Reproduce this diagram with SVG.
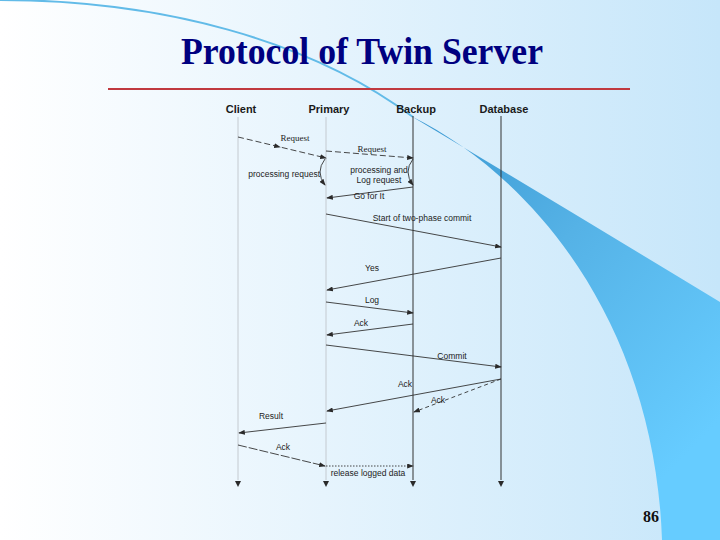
<svg xmlns="http://www.w3.org/2000/svg" width="720" height="540" viewBox="0 0 720 540">
<defs>
  <linearGradient id="bg" x1="0" y1="0" x2="1" y2="0">
    <stop offset="0" stop-color="#ffffff"/>
    <stop offset="0.45" stop-color="#e6f4fd"/>
    <stop offset="1" stop-color="#c6e6fa"/>
  </linearGradient>
  <linearGradient id="sweep" x1="413" y1="117" x2="720" y2="420" gradientUnits="userSpaceOnUse">
    <stop offset="0" stop-color="#3a98d2"/>
    <stop offset="0.45" stop-color="#55b2e6"/>
    <stop offset="1" stop-color="#66ccff"/>
  </linearGradient>
  <marker id="arr" viewBox="0 0 8 6" refX="7" refY="3" markerWidth="7" markerHeight="5" markerUnits="userSpaceOnUse" orient="auto">
    <path d="M0,0 L8,3 L0,6 z" fill="#2a2a2a"/>
  </marker>
</defs>
<style>
  .hdr { font-family: "Liberation Sans", Arial, sans-serif; font-weight: bold; font-size: 11px; fill: #1a1a1a; text-anchor: middle; }
  .lbl { font-family: "Liberation Sans", Arial, sans-serif; font-size: 8.5px; fill: #222; }
  .ser { font-family: "Liberation Serif", "Times New Roman", serif; font-size: 9px; fill: #222; }
  .life-l { stroke: #c4cad0; stroke-width: 1; fill: none; }
  .life-d { stroke: #333; stroke-width: 1; fill: none; }
  .msg { stroke: #333; stroke-width: 0.9; fill: none; marker-end: url(#arr); }
  .dash { stroke-dasharray: 6 3; }
  .sdash { stroke-dasharray: 4 3; }
  .ldash { stroke-dasharray: 9 2; }
  .dot { stroke-dasharray: 1.5 1.5; }
</style>

<rect x="0" y="0" width="720" height="540" fill="url(#bg)"/>

<g id="decoration">
  <path d="M0,0 C160,0 310,40 413,117" fill="none" stroke="#62bbe8" stroke-width="2"/>
  <path d="M411,116 Q560,205 720,302 L720,540 L662,540 C655,330 540,180 411,116 z" fill="url(#sweep)"/>
</g>

<g id="title">
  <text x="362" y="64" text-anchor="middle" font-family="'Liberation Serif', 'Times New Roman', serif" font-weight="bold" font-size="37" textLength="362" lengthAdjust="spacingAndGlyphs" fill="#000080">Protocol of Twin Server</text>
  <line x1="108" y1="89" x2="630" y2="89" stroke="#c0393f" stroke-width="2"/>
</g>

<g id="client">
  <text class="hdr" x="241" y="113">Client</text>
  <line class="life-l" x1="238" y1="117" x2="238" y2="480"/>
  <path d="M235,481 L241,481 L238,487 z" fill="#2a2a2a"/>
</g>
<g id="primary">
  <text class="hdr" x="329" y="113">Primary</text>
  <line class="life-l" x1="326" y1="117" x2="326" y2="480"/>
  <path d="M323,481 L329,481 L326,487 z" fill="#2a2a2a"/>
</g>
<g id="backup">
  <text class="hdr" x="416" y="113">Backup</text>
  <line class="life-d" x1="413" y1="116" x2="413" y2="480"/>
  <path d="M410,481 L416,481 L413,487 z" fill="#2a2a2a"/>
</g>
<g id="database">
  <text class="hdr" x="504" y="113">Database</text>
  <line class="life-d" x1="501" y1="116" x2="501" y2="480"/>
  <path d="M498,481 L504,481 L501,487 z" fill="#2a2a2a"/>
</g>

<g id="connectors">
  <polyline class="msg dash" points="238,137 280,147 326,158" marker-mid="url(#arr)"/>
  <text class="ser" x="295" y="141" text-anchor="middle">Request</text>
  <line class="msg dash" x1="326" y1="151" x2="413" y2="158"/>
  <text class="ser" x="372" y="152" text-anchor="middle">Request</text>

  <path class="msg" d="M325,159 Q315,172 325,185"/>
  <text class="lbl" x="320" y="177" text-anchor="end">processing request</text>
  <path class="msg" d="M413,159 Q403,172 413,185"/>
  <text class="lbl" x="379" y="173" text-anchor="middle">processing and</text>
  <text class="lbl" x="379" y="183" text-anchor="middle">Log request</text>

  <line class="msg" x1="413" y1="187" x2="327" y2="198"/>
  <text class="lbl" x="369" y="199" text-anchor="middle">Go for It</text>

  <line class="msg" x1="326" y1="214" x2="501" y2="247"/>
  <text class="lbl" x="422" y="221" text-anchor="middle">Start of two-phase commit</text>

  <line class="msg" x1="501" y1="258" x2="327" y2="290"/>
  <text class="lbl" x="372" y="271" text-anchor="middle">Yes</text>

  <line class="msg" x1="326" y1="302" x2="413" y2="313"/>
  <text class="lbl" x="372" y="303" text-anchor="middle">Log</text>

  <line class="msg" x1="413" y1="324" x2="327" y2="335"/>
  <text class="lbl" x="361" y="326" text-anchor="middle">Ack</text>

  <line class="msg" x1="326" y1="345" x2="501" y2="367"/>
  <text class="lbl" x="452" y="359" text-anchor="middle">Commit</text>

  <line class="msg" x1="501" y1="379" x2="327" y2="411"/>
  <text class="lbl" x="405" y="387" text-anchor="middle">Ack</text>

  <line class="msg sdash" x1="501" y1="379" x2="414" y2="412"/>
  <text class="lbl" x="438" y="403" text-anchor="middle">Ack</text>

  <line class="msg" x1="326" y1="423" x2="239" y2="433"/>
  <text class="lbl" x="271" y="419" text-anchor="middle">Result</text>

  <line class="msg ldash" x1="238" y1="445" x2="325" y2="466"/>
  <text class="lbl" x="283" y="450" text-anchor="middle">Ack</text>

  <line class="msg dot" x1="326" y1="466" x2="413" y2="466"/>
  <text class="lbl" x="368" y="476" text-anchor="middle">release logged data</text>
</g>

<text x="651" y="522" text-anchor="middle" font-family="'Liberation Serif', 'Times New Roman', serif" font-weight="bold" font-size="16" fill="#111">86</text>
</svg>
